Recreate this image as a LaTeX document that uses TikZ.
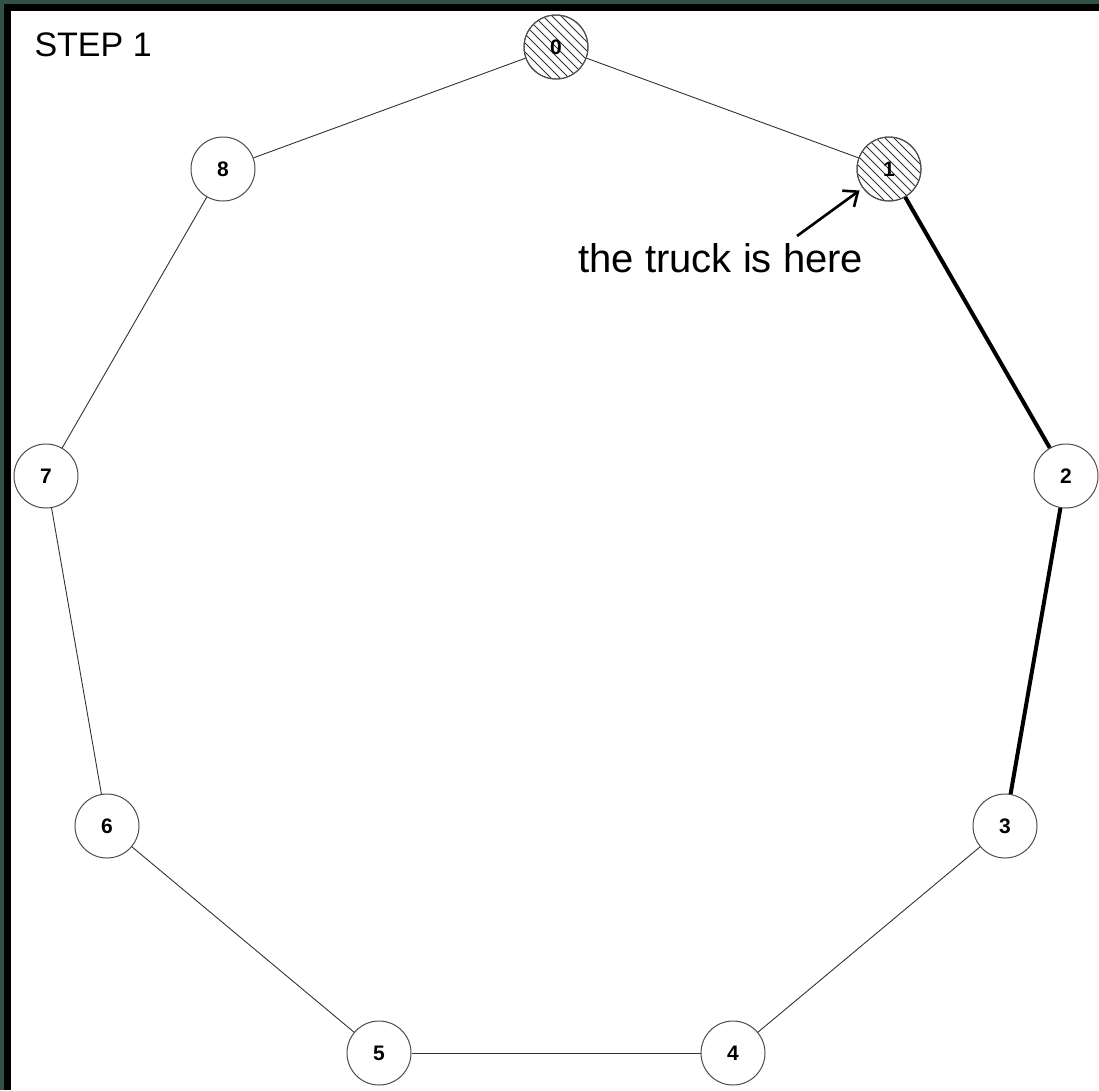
\documentclass[tikz,border=0pt]{standalone}
\usepackage{fontspec}
\setmainfont{Liberation Sans}
\usetikzlibrary{arrows.meta}
\definecolor{bggreen}{HTML}{2F5245}
\begin{document}
\begin{tikzpicture}[x=1pt,y=-1pt,
  vert/.style={circle,draw=black!70,line width=1pt,fill=white,minimum size=64pt,inner sep=0pt,font=\fontsize{21}{23}\selectfont\bfseries},
  hatchline/.style={draw=black!80,line width=1pt},
  edge/.style={draw=black!80,line width=0.9pt},
  heavy/.style={draw=black,line width=4pt},
  pointer/.style={draw=black,line width=2.6pt,-{Straight Barb[length=12pt,width=20pt,line width=2.6pt]}}]
\useasboundingbox (0,0) rectangle (1099,1090);
\fill[bggreen] (0,0) rectangle (1099,1090);
\fill[black] (4,4) rectangle (1099,1090);
\fill[white] (11,11) rectangle (1099,1090);
\node[anchor=base west,font=\fontsize{34}{38}\selectfont] (title) at (31,56) {STEP 1};
\node[vert] (n0) at (556,47) {};
\node[vert] (n1) at (889,169) {};
\foreach \n in {n0,n1}{
  \begin{scope}
    \clip (\n.center) circle (32);
    \foreach \d in {-72,-63,...,72}{
      \draw[hatchline] ([xshift=\d-40, yshift=40]\n.center) -- ([xshift=\d+40, yshift=-40]\n.center);
    }
  \end{scope}
  \draw[draw=black!70,line width=1pt] (\n.center) circle (32);
}
\node[font=\fontsize{21}{23}\selectfont\bfseries] (l0) at (n0) {0};
\node[font=\fontsize{21}{23}\selectfont\bfseries] (l1) at (n1) {1};
\node[vert] (n2) at (1066,476) {2};
\node[vert] (n3) at (1005,826) {3};
\node[vert] (n4) at (733,1053) {4};
\node[vert] (n5) at (379,1053) {5};
\node[vert] (n6) at (107,826) {6};
\node[vert] (n7) at (46,476) {7};
\node[vert] (n8) at (223,169) {8};
\draw[edge] (n0) -- (n1);
\draw[heavy] (n1) -- (n2);
\draw[heavy] (n2) -- (n3);
\draw[edge] (n3) -- (n4);
\draw[edge] (n4) -- (n5);
\draw[edge] (n5) -- (n6);
\draw[edge] (n6) -- (n7);
\draw[edge] (n7) -- (n8);
\draw[edge] (n8) -- (n0);
\node[font=\fontsize{40}{46}\selectfont,anchor=base west] (label) at (575,272) {the truck is here};
\coordinate (tail) at (797,236);
\draw[pointer,shorten >=4pt] (tail) -- (n1);
\end{tikzpicture}
\end{document}
